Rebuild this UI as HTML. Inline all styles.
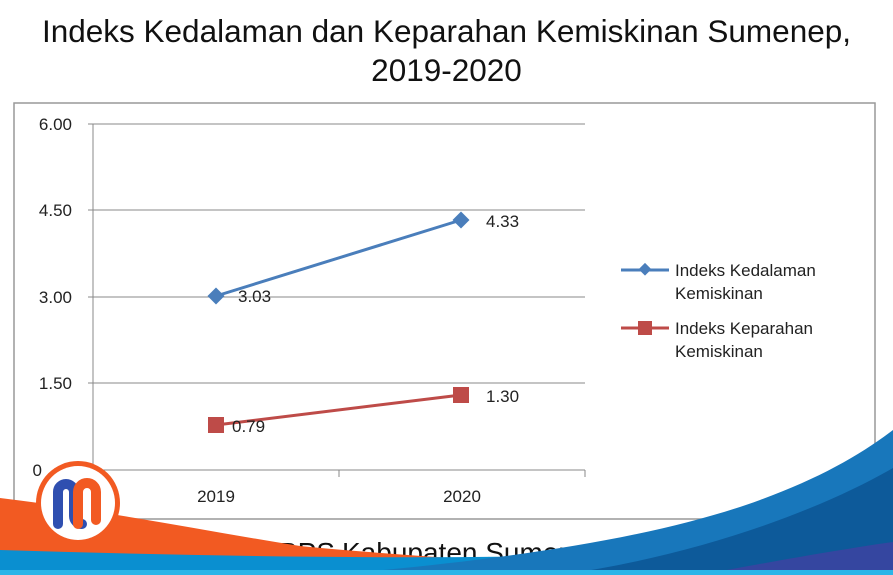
<!DOCTYPE html>
<html><head><style>
html,body{margin:0;padding:0;background:#fff;}
body{width:893px;height:575px;overflow:hidden;position:relative;font-family:"Liberation Sans",sans-serif;}
.title{position:absolute;left:0;width:893px;top:12px;text-align:center;font-size:31.5px;line-height:39px;color:#111;}
</style></head><body>
<div class="title">Indeks Kedalaman dan Keparahan Kemiskinan Sumenep,<br>2019-2020</div>
<svg width="893" height="575" style="position:absolute;left:0;top:0" font-family="Liberation Sans, sans-serif">
<rect x="14" y="103" width="861" height="416" fill="none" stroke="#999" stroke-width="1.5"/>
<g stroke="#888" stroke-width="1">
<line x1="88" y1="124" x2="585" y2="124"/>
<line x1="88" y1="210" x2="585" y2="210"/>
<line x1="88" y1="297" x2="585" y2="297"/>
<line x1="88" y1="383" x2="585" y2="383"/>
<line x1="88" y1="470" x2="585" y2="470"/>
<line x1="93" y1="124" x2="93" y2="470"/>
<line x1="339" y1="470" x2="339" y2="477"/>
<line x1="585" y1="470" x2="585" y2="477"/>
</g>
<g font-size="17" fill="#222" text-anchor="end">
<text x="72" y="130">6.00</text><text x="72" y="216">4.50</text><text x="72" y="303">3.00</text><text x="72" y="389">1.50</text><text x="42" y="476">0</text>
</g>
<g font-size="17" fill="#222" text-anchor="middle">
<text x="216" y="502">2019</text><text x="462" y="502">2020</text>
</g>
<line x1="216" y1="296" x2="461" y2="220" stroke="#4a7ebb" stroke-width="3"/>
<rect x="210" y="290" width="12" height="12" fill="#4a7ebb" transform="rotate(45 216 296)"/>
<rect x="455" y="214" width="12" height="12" fill="#4a7ebb" transform="rotate(45 461 220)"/>
<line x1="216" y1="425" x2="461" y2="395" stroke="#be4b48" stroke-width="3"/>
<rect x="208" y="417" width="16" height="16" fill="#be4b48"/>
<rect x="453" y="387" width="16" height="16" fill="#be4b48"/>
<g font-size="17" fill="#222">
<text x="238" y="302">3.03</text><text x="486" y="227">4.33</text>
<text x="232" y="432">0.79</text><text x="486" y="402">1.30</text>
</g>
<line x1="621" y1="270" x2="669" y2="270" stroke="#4a7ebb" stroke-width="3"/>
<rect x="640" y="265" width="9" height="9" fill="#4a7ebb" transform="rotate(45 645 270)"/>
<line x1="621" y1="328" x2="669" y2="328" stroke="#be4b48" stroke-width="3"/>
<rect x="638" y="321" width="14" height="14" fill="#be4b48"/>
<g font-size="17" fill="#222">
<text x="675" y="276">Indeks Kedalaman</text><text x="675" y="299">Kemiskinan</text>
<text x="675" y="334">Indeks Keparahan</text><text x="675" y="357">Kemiskinan</text>
</g>
<text x="335" y="562" font-size="28" fill="#111" text-anchor="end">Sumber: BPS</text>
<text x="342" y="562" font-size="28" fill="#111">Kabupaten Sumenep</text>
<path d="M0,498 C100,510 200,530 300,546 C400,556 600,568 720,575 L0,575 Z" fill="#f25a22"/>
<path d="M0,550 C200,556 400,560 600,555 L893,540 L893,575 L0,575 Z" fill="#0a8fd0"/>
<path d="M330,575 C500,560 650,540 760,500 C820,478 860,455 893,430 L893,575 Z" fill="#1877bb"/>
<path d="M560,575 C700,555 820,510 893,468 L893,575 Z" fill="#0d5a9a"/>
<path d="M700,575 C780,560 850,548 893,542 L893,575 Z" fill="#3546a0"/>
<rect x="0" y="570" width="893" height="5" fill="#2bb5e8"/>
<circle cx="78" cy="503" r="42" fill="#f25a22"/>
<circle cx="78" cy="503" r="37" fill="#fff"/>
<path d="M58,524 L58,492 A8,8 0 0 1 74,492 L74,516 A8,8 0 0 0 82,524" fill="none" stroke="#2f4fb0" stroke-width="10" stroke-linecap="round"/>
<path d="M78,524 L78,492 A9,9 0 0 1 96,492 L96,520" fill="none" stroke="#f25a22" stroke-width="10" stroke-linecap="round"/>
</svg>
</body></html>
